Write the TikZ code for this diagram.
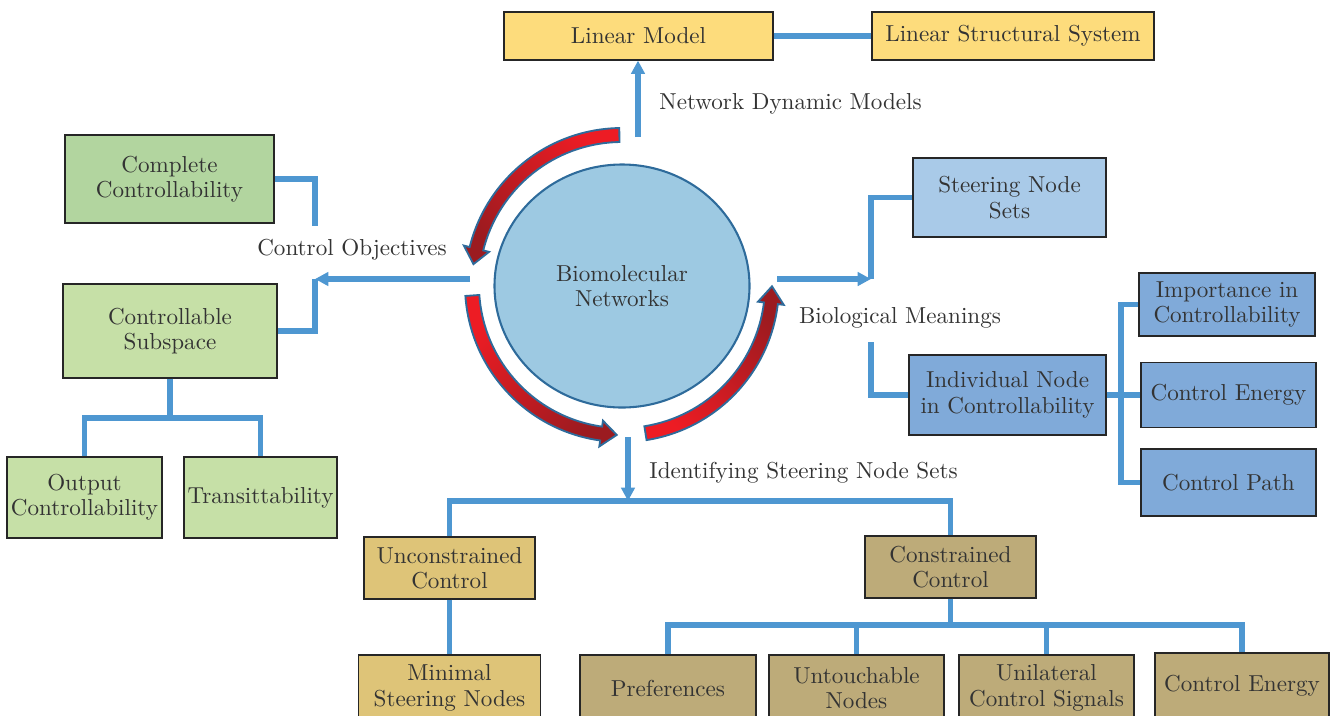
\documentclass[tikz,border=0pt]{standalone}
\usepackage{tikz}
\usetikzlibrary{positioning}
\usetikzlibrary{calc}
\usetikzlibrary{arrows.meta,shapes.geometric}

\definecolor{linkblue}{HTML}{4E97D1}
\definecolor{rimblue}{HTML}{2E6B9B}
\definecolor{netblue}{HTML}{9DC9E2}
\definecolor{bendred}{HTML}{ED1C24}
\definecolor{benddark}{HTML}{9B1B20}
\definecolor{txtgray}{HTML}{333333}
\definecolor{modyellow}{HTML}{FDDC7C}
\definecolor{objgreen}{HTML}{B2D59F}
\definecolor{subgreen}{HTML}{C6E0A7}
\definecolor{bioblue}{HTML}{A9CAE8}
\definecolor{indblue}{HTML}{80AAD9}
\definecolor{unsand}{HTML}{DEC478}
\definecolor{consand}{HTML}{BDAB79}

\newlength\pxu
\setlength\pxu{0.433pt}

\tikzset{
  box/.style={draw=black!85, line width=0.5pt, align=center, text=txtgray,
    inner sep=1pt, font=\fontsize{10}{11}\selectfont},
  sz/.style 2 args={minimum width=#1*\pxu, minimum height=#2*\pxu},
  lbl/.style={text=txtgray, font=\fontsize{10}{11}\selectfont, inner sep=0pt},
  link/.style={draw=linkblue, line width=2.2pt},
  arrow/.style={link, -{Triangle[length=5.8pt,width=5.8pt]}},
  bendrim/.style={draw=rimblue, line width=0.8pt},
}

% curved arrow round the network: start angle, head base angle, tip angle, shading angle
\newcommand\bendarrow[4]{%
  \shade[bendrim, top color=bendred, bottom color=benddark, shading angle=#4]
    ($(cen)+(#1:157)$) arc[start angle=#1, end angle=#2, radius=157]
    -- ($(cen)+(#2:163)$) -- ($(cen)+(#3:150)$) -- ($(cen)+(#2:137)$)
    -- ($(cen)+(#2:143)$) arc[start angle=#2, end angle=#1, radius=143] -- cycle;
}

\begin{document}
\begin{tikzpicture}[x=\pxu, y=\pxu]
\useasboundingbox (0,0) rectangle (1340,-715);

% centre
\coordinate (cen) at (622,-285);
\node[ellipse, draw=rimblue, fill=netblue, line width=0.9pt, sz={255}{243},
  align=center, text=txtgray, font=\fontsize{10}{11}\selectfont] (net) at (622,-286) {Biomolecular\\Networks};
\bendarrow{91}{166}{172}{-45}
\bendarrow{184}{262}{268}{45}
\bendarrow{279}{353}{359.5}{135}

% models
\node[box, fill=modyellow, sz={269}{48}] (linmod) at (638.5,-36) {Linear Model};
\node[box, fill=modyellow, sz={282}{48}] (linstr) at (1013,-36) {Linear Structural System};
\coordinate (modstart) at (638,-137);
\node[lbl, anchor=west] (ndm) at (659,-104) {Network Dynamic Models};

% control objectives
\node[box, fill=objgreen, sz={209}{88}] (compctrl) at (169.5,-179) {Complete\\Controllability};
\node[box, fill=subgreen, sz={214}{94}] (ctrlsub) at (170,-331) {Controllable\\Subspace};
\node[box, fill=subgreen, sz={155}{81}] (outctrl) at (84.5,-497.5) {Output\\Controllability};
\node[box, fill=subgreen, sz={153}{81}] (transit) at (260.5,-497.5) {Transittability};
\node[lbl] (cobj) at (352,-250) {Control Objectives};
\coordinate (objstart) at (470,-279);
\coordinate (objjoin) at (315,-279);
\coordinate (objtop) at (315,-226);
\coordinate (subjoin) at (170,-418);

% biological meanings
\node[box, fill=bioblue, sz={193}{79}] (steer) at (1009.5,-197.5) {Steering Node\\Sets};
\node[box, fill=indblue, sz={197}{80}] (indiv) at (1007.5,-395) {Individual Node\\in Controllability};
\node[box, fill=indblue, sz={176}{63}] (import) at (1227,-304.5) {Importance in\\Controllability};
\node[box, fill=indblue, sz={175}{65}] (energy) at (1228.5,-395) {Control Energy};
\node[box, fill=indblue, sz={175}{67}] (cpath) at (1228.5,-482.5) {Control Path};
\node[lbl] (biom) at (900,-318) {Biological Meanings};
\coordinate (biostart) at (777,-279);
\coordinate (biojoin) at (871,-279);
\coordinate (biobot) at (871,-342);
\coordinate (indjoin) at (1121,-395);

% steering node sets
\node[box, fill=unsand, sz={171}{62}] (uncon) at (449.5,-568) {Unconstrained\\Control};
\node[box, fill=consand, sz={171}{62}] (con) at (950.5,-567) {Constrained\\Control};
\node[box, fill=unsand, sz={182}{66}] (minimal) at (449.5,-688) {Minimal\\Steering Nodes};
\node[box, fill=consand, sz={176}{66}] (prefs) at (668,-688) {Preferences};
\node[box, fill=consand, sz={175}{66}] (untouch) at (856.5,-688) {Untouchable\\Nodes};
\node[box, fill=consand, sz={175}{66}] (unilat) at (1046.5,-688) {Unilateral\\Control Signals};
\node[box, fill=consand, sz={174}{66}] (conenergy) at (1242,-686) {Control Energy};
\node[lbl, anchor=west] (iden) at (649,-473) {Identifying Steering Node Sets};
\coordinate (idstart) at (628,-437);
\coordinate (idjoin) at (628,-501);
\coordinate (conjoin) at (950.5,-625);

% connectors
\draw[link] (linmod) -- (linstr);
\draw[arrow] (modstart) -- (modstart |- linmod.south);

\draw[arrow] (objstart) -- (objjoin);
\draw[link] (compctrl.east) -| (objtop);
\draw[link] (objjoin) |- (ctrlsub.east);
\draw[link] (ctrlsub.south) -- (subjoin);
\draw[link] (outctrl.north) |- (subjoin) -| (transit.north);

\draw[arrow] (biostart) -- (biojoin);
\draw[link] (biojoin) |- (steer.west);
\draw[link] (biobot) |- (indiv.west);
\draw[link] (indiv.east) -- (indjoin);
\draw[link] (import.west) -| (indjoin) |- (cpath.west);
\draw[link] (indjoin) -- (energy.west);

\draw[arrow] (idstart) -- (idjoin);
\draw[link] (uncon.north) |- (idjoin) -| (con.north);
\draw[link] (uncon.south) -- (minimal.north);
\draw[link] (con.south) -- (conjoin);
\draw[link] (prefs.north) |- (conjoin) -| (conenergy.north);
\draw[link] (untouch.north) -- (untouch.north |- conjoin);
\draw[link] (unilat.north) -- (unilat.north |- conjoin);
\end{tikzpicture}
\end{document}
